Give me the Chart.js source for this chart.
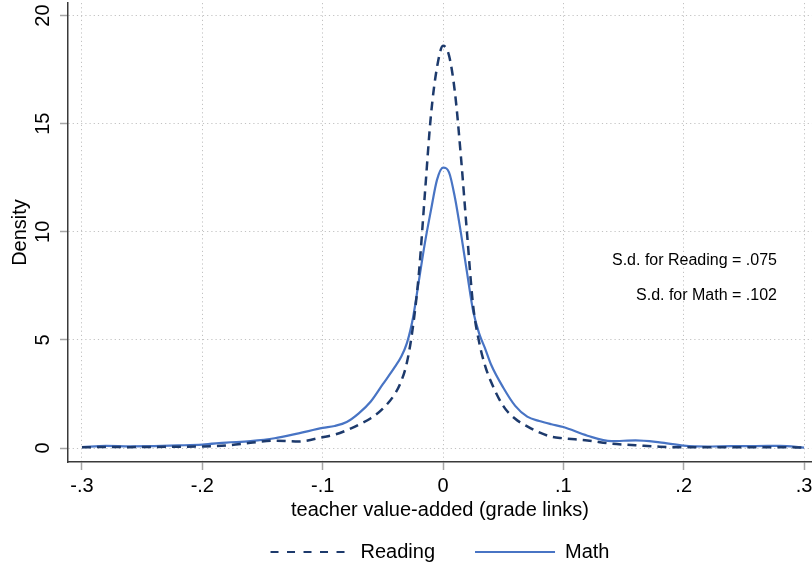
<!DOCTYPE html>
<html>
<head>
<meta charset="utf-8">
<script src="https://cdn.jsdelivr.net/npm/chart.js@4"></script>
<style>
  body { margin: 0; background: #fff; }
  #wrap { width: 812px; height: 572px; }
</style>
</head>
<body>
<div id="wrap"><canvas id="densityChart"></canvas></div>
<script>
// points on the x axis (teacher value-added)
const xValues = [-0.30, -0.28, -0.26, -0.24, -0.22, -0.20, -0.18, -0.16, -0.14, -0.12, -0.10,
    -0.09, -0.08, -0.07, -0.06, -0.05, -0.04,
    -0.035, -0.03, -0.025, -0.02, -0.015, -0.01, -0.005, 0, 0.005, 0.01, 0.015, 0.02, 0.025, 0.03, 0.035,
    0.04, 0.05, 0.06, 0.07, 0.08, 0.09, 0.10,
    0.12, 0.14, 0.16, 0.18, 0.20, 0.22, 0.24, 0.26, 0.28, 0.30];

// density, reading
const readingDensity = [0.03, 0.05, 0.04, 0.05, 0.06, 0.07, 0.12, 0.24, 0.34, 0.30, 0.50,
    0.62, 0.82, 1.08, 1.38, 1.82, 2.50,
    3.05, 3.95, 5.60, 8.10, 11.8, 15.4, 17.6, 18.6, 18.15, 16.4, 13.4, 9.9, 6.6, 4.9, 3.8,
    3.05, 1.95, 1.35, 1.00, 0.72, 0.52, 0.45,
    0.35, 0.20, 0.13, 0.06, 0.03, 0.03, 0.03, 0.03, 0.04, 0.02];

// density, math
const mathDensity = [0.04, 0.10, 0.08, 0.09, 0.12, 0.16, 0.25, 0.32, 0.45, 0.68, 0.93,
    1.02, 1.20, 1.60, 2.15, 2.95, 3.75,
    4.20, 4.85, 6.00, 7.75, 9.5, 11.0, 12.4, 12.97, 12.75, 11.55, 9.9, 8.1, 6.35, 5.3, 4.6,
    3.85, 2.80, 1.95, 1.45, 1.25, 1.10, 0.97,
    0.57, 0.32, 0.35, 0.26, 0.11, 0.07, 0.09, 0.09, 0.10, 0.02];

const xTicks = [-0.3, -0.2, -0.1, 0, 0.1, 0.2, 0.3];
const xTickLabels = ['-.3', '-.2', '-.1', '0', '.1', '.2', '.3'];
const yTicks = [0, 5, 10, 15, 20];
const yTickLabels = ['0', '5', '10', '15', '20'];

const sdNotes = ['S.d. for Reading = .075', 'S.d. for Math = .102'];

const FONT = '"Liberation Sans", Arial, Helvetica, sans-serif';
Chart.defaults.font.family = FONT;
Chart.defaults.color = '#000';

// texte d'annotation a droite
const notesPlugin = {
    id: 'sdNotes',
    afterDatasetsDraw(chart) {
        const ctx = chart.ctx;
        const xs = chart.scales.x, ys = chart.scales.y;
        ctx.save();
        ctx.font = '16px ' + FONT;
        ctx.fillStyle = '#000';
        ctx.textAlign = 'right';
        ctx.textBaseline = 'middle';
        ctx.fillText(sdNotes[0], xs.getPixelForValue(0.2775), ys.getPixelForValue(8.65));
        ctx.fillText(sdNotes[1], xs.getPixelForValue(0.2775), ys.getPixelForValue(7.07));
        ctx.restore();
    }
};

const gridStyle = {
    color: '#c2c2c2',
    lineWidth: 1,
    tickColor: '#a6a6a6',
    tickWidth: 1.5,
    tickLength: 8
};
const borderStyle = { display: true, color: '#3a3a3a', width: 1.5, dash: [1.2, 3] };

new Chart(document.getElementById('densityChart'), {
    type: 'line',
    data: {
        datasets: [
            {
                label: 'Reading',
                data: xValues.map((x, i) => ({ x: x, y: readingDensity[i] })),
                borderColor: '#1d3a6c',
                backgroundColor: '#1d3a6c',
                borderWidth: 2.5,
                borderDash: [9, 6],
                pointRadius: 0,
                pointStyle: 'line',
                cubicInterpolationMode: 'monotone'
            },
            {
                label: 'Math',
                data: xValues.map((x, i) => ({ x: x, y: mathDensity[i] })),
                borderColor: '#4874c4',
                backgroundColor: '#4874c4',
                borderWidth: 2.2,
                pointRadius: 0,
                pointStyle: 'line',
                cubicInterpolationMode: 'monotone'
            }
        ]
    },
    options: {
        responsive: true,
        maintainAspectRatio: false,
        animation: false,
        layout: { padding: { top: 3, right: 0, bottom: 0, left: 0 } },
        plugins: {
            legend: {
                position: 'bottom',
                fullSize: false,
                labels: {
                    usePointStyle: true,
                    pointStyleWidth: 80,
                    padding: 20,
                    font: { size: 20 },
                    generateLabels: function(chart) {
                        const items = Chart.defaults.plugins.legend.labels.generateLabels(chart);
                        items[0].text = items[0].text + '\u2003';
                        items[0].lineDash = [8, 8.5];
                        items[0].lineWidth = 2;
                        items[1].lineWidth = 2;
                        return items;
                    }
                }
            },
            tooltip: { enabled: false }
        },
        scales: {
            x: {
                type: 'linear',
                min: -0.3116,
                max: 0.3066,
                afterBuildTicks: scale => { scale.ticks = xTicks.map(v => ({ value: v })); },
                afterFit: scale => {
                    scale.height = 60;
                    scale.paddingLeft = 0;
                    scale.paddingRight = 0;
                },
                ticks: {
                    font: { size: 20 },
                    padding: 4,
                    maxRotation: 0,
                    autoSkip: false,
                    callback: (value, index) => xTickLabels[index]
                },
                grid: gridStyle,
                border: borderStyle,
                title: {
                    display: true,
                    text: 'teacher value-added (grade links)',
                    font: { size: 20 },
                    padding: { top: 2, bottom: 0 }
                }
            },
            y: {
                type: 'linear',
                min: -0.647,
                max: 20.58,
                afterBuildTicks: scale => { scale.ticks = yTicks.map(v => ({ value: v })); },
                afterFit: scale => {
                    scale.width = 68;
                    scale.paddingTop = 0;
                    scale.paddingBottom = 0;
                },
                ticks: {
                    font: { size: 20 },
                    padding: 5,
                    minRotation: 90,
                    maxRotation: 90,
                    crossAlign: 'center',
                    autoSkip: false,
                    callback: (value, index) => yTickLabels[index]
                },
                grid: gridStyle,
                border: borderStyle,
                title: {
                    display: true,
                    text: 'Density',
                    font: { size: 20 },
                    padding: { top: 8, bottom: 0 }
                }
            }
        }
    },
    plugins: [notesPlugin]
});
</script>
</body>
</html>
